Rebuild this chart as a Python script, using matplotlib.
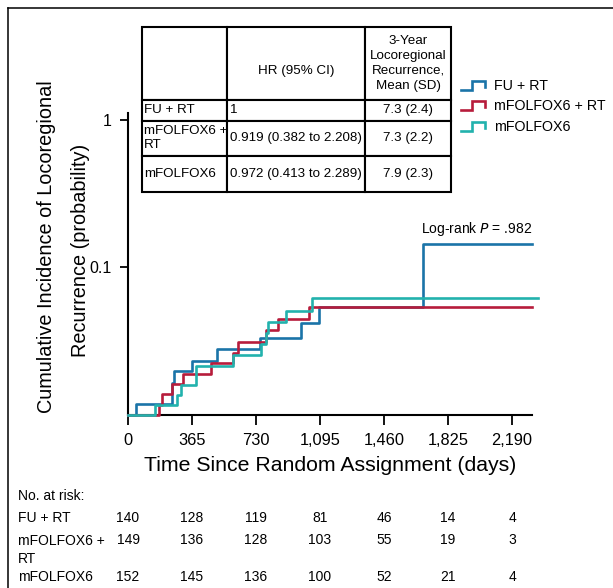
import numpy as np
import matplotlib
matplotlib.use("Agg")
import matplotlib.pyplot as plt
from matplotlib.lines import Line2D
from matplotlib.table import Table
from matplotlib.legend_handler import HandlerBase
from matplotlib.transforms import blended_transform_factory

plt.rcParams['font.family'] = ['Liberation Sans', 'DejaVu Sans']

# cumulative incidence (days, probability)
days_fu_rt = [0, 46, 249, 265, 363, 506, 753, 987, 1091, 1684, 2304]
inc_fu_rt = [0, 0.0116, 0.0161, 0.0193, 0.0228, 0.0273, 0.0329, 0.0410, 0.0534, 0.143, 0.143]

days_ox_rt = [0, 178, 192, 253, 312, 473, 600, 626, 785, 854, 1034, 2304]
inc_ox_rt = [0, 0.0114, 0.0135, 0.0159, 0.0186, 0.0220, 0.0259, 0.0308, 0.0370, 0.0438, 0.0534, 0.0534]

days_ox = [0, 154, 278, 302, 388, 600, 758, 785, 800, 899, 1049, 2338]
inc_ox = [0, 0.0114, 0.0134, 0.0155, 0.0211, 0.0250, 0.0297, 0.0352, 0.0417, 0.0495, 0.0609, 0.0609]

groups = ['FU + RT', 'mFOLFOX6 + RT', 'mFOLFOX6']
colors = ['#1a74a8', '#b71c3b', '#22b2ad']

xticks = [0, 365, 730, 1095, 1460, 1825, 2190]
xtick_labels = ['0', '365', '730', '1,095', '1,460', '1,825', '2,190']

risk_labels = ['FU + RT', 'mFOLFOX6 +\nRT', 'mFOLFOX6']
at_risk = [
    [140, 128, 119, 81, 46, 14, 4],
    [149, 136, 128, 103, 55, 19, 3],
    [152, 145, 136, 100, 52, 21, 4],
]

table_header = ['', '\nHR (95% CI)', '3-Year\nLocoregional\nRecurrence,\nMean (SD)']
hr_text = ['1', '0.919 (0.382 to 2.208)', '0.972 (0.413 to 2.289)']
lrr_text = ['7.3 (2.4)', '7.3 (2.2)', '7.9 (2.3)']
table_groups = ['FU + RT', 'mFOLFOX6 +\nRT', 'mFOLFOX6']

W, H = 613, 588
YMIN, YMAX = 0.00975, 1.116


class StepIcon(HandlerBase):
    def create_artists(self, legend, orig_handle, xdescent, ydescent,
                       width, height, fontsize, trans):
        x0, y0 = -xdescent, -ydescent
        xs = [x0, x0 + 0.45 * width, x0 + 0.45 * width, x0 + width, x0 + width]
        ys = [y0 + 0.0 * height, y0 + 0.0 * height, y0 + 0.9 * height,
              y0 + 0.9 * height, y0 + 0.3 * height]
        ln = Line2D(xs, ys, color=orig_handle.get_color(),
                    lw=orig_handle.get_linewidth(), solid_joinstyle='miter')
        ln.set_transform(trans)
        return [ln]


fig = plt.figure(figsize=(W / 100, H / 100), dpi=100)
ax = fig.add_axes([128 / W, 1 - 415 / H, (532 - 128) / W, (415 - 113) / H])

handles = []
for d, v, c, g in zip([days_fu_rt, days_ox_rt, days_ox],
                      [inc_fu_rt, inc_ox_rt, inc_ox], colors, groups):
    v = np.maximum(np.array(v), YMIN)
    h, = ax.step(d, v, where='post', color=c, lw=1.9, label=g, clip_on=False,
                 zorder=3)
    handles.append(h)

ax.set_yscale('log')
ax.set_xlim(0, 2304)
ax.set_ylim(YMIN, YMAX)
ax.set_yticks([1, 0.1], ['1', '0.1'], fontsize=11.5)
ax.yaxis.set_minor_locator(matplotlib.ticker.NullLocator())
ax.set_xticks(xticks, xtick_labels, fontsize=11.8)
ax.tick_params(direction='out', length=7, width=1.3, pad=6)
ax.tick_params(axis='y', length=6)
for s in ['top', 'right']:
    ax.spines[s].set_visible(False)
for s in ['left', 'bottom']:
    ax.spines[s].set_linewidth(1.5)

ax.set_xlabel('Time Since Random Assignment (days)', fontsize=15.3, labelpad=6)
fig.text(47 / W, 1 - 247 / H, 'Cumulative Incidence of Locoregional', rotation=90,
         ha='center', va='center', fontsize=14.3)
fig.text(80 / W, 1 - 250 / H, 'Recurrence (probability)', rotation=90,
         ha='center', va='center', fontsize=14.3)

ax.text(2304, 0.158, 'Log-rank $\\it{P}$ = .982', ha='right', va='bottom',
        fontsize=10)

fig.legend(handles=handles, loc='upper left',
           bbox_to_anchor=(461 / W, 1 - 79 / H), frameon=False, fontsize=10.3,
           handler_map={Line2D: StepIcon()}, handlelength=1.7,
           handletextpad=0.6, labelspacing=0.45, borderpad=0, borderaxespad=0)

# table overlay
ov = fig.add_axes([0, 0, 1, 1], zorder=5)
ov.set_axis_off()
tb = Table(ov, bbox=[141.7 / W, 1 - 191.7 / H, (451 - 141.7) / W,
                     (191.7 - 26.7) / H])
col_w = [85, 138.3, 86]
row_h = [73.3, 20.7, 35.3, 35.7]
rows = [table_header] + [[g, hr, lr] for g, hr, lr in
                         zip(table_groups, hr_text, lrr_text)]
for r, row in enumerate(rows):
    for c, txt in enumerate(row):
        if c == 2 or (r == 0):
            loc = 'center'
        else:
            loc = 'left'
        cell = tb.add_cell(r, c, col_w[c], row_h[r], text=txt, loc=loc,
                           edgecolor='black', facecolor='white')
        cell.PAD = 0.025
        cell.set_linewidth(1.5)
        cell.get_text().set_fontsize(9.6)
        cell.get_text().set_linespacing(1.35 if r == 0 else 1.2)
tb.auto_set_font_size(False)
ov.add_table(tb)

# number at risk
tr = blended_transform_factory(ax.transData, fig.transFigure)
fig.text(18 / W, 1 - 496 / H, 'No. at risk:', ha='left', va='center', fontsize=10)
row_y = [518.3, 540, 576.7]
for lbl, counts, y in zip(risk_labels, at_risk, row_y):
    if '\n' in lbl:
        fig.text(18 / W, 1 - (y - 6) / H, lbl, ha='left', va='top', fontsize=10,
                 linespacing=1.4)
    else:
        fig.text(18 / W, 1 - y / H, lbl, ha='left', va='center', fontsize=10)
    for t, n in zip(xticks, counts):
        ax.text(t, 1 - y / H, str(n), transform=tr, ha='center', va='center',
                fontsize=10, clip_on=False)

# frame lines
fig.add_artist(Line2D([8 / W, 1], [1 - 8 / H, 1 - 8 / H], color='black', lw=1.1,
                      transform=fig.transFigure))
fig.add_artist(Line2D([8 / W, 8 / W], [0, 1 - 8 / H], color='black', lw=1.1,
                      transform=fig.transFigure))

fig.savefig('out.png', dpi=100)
